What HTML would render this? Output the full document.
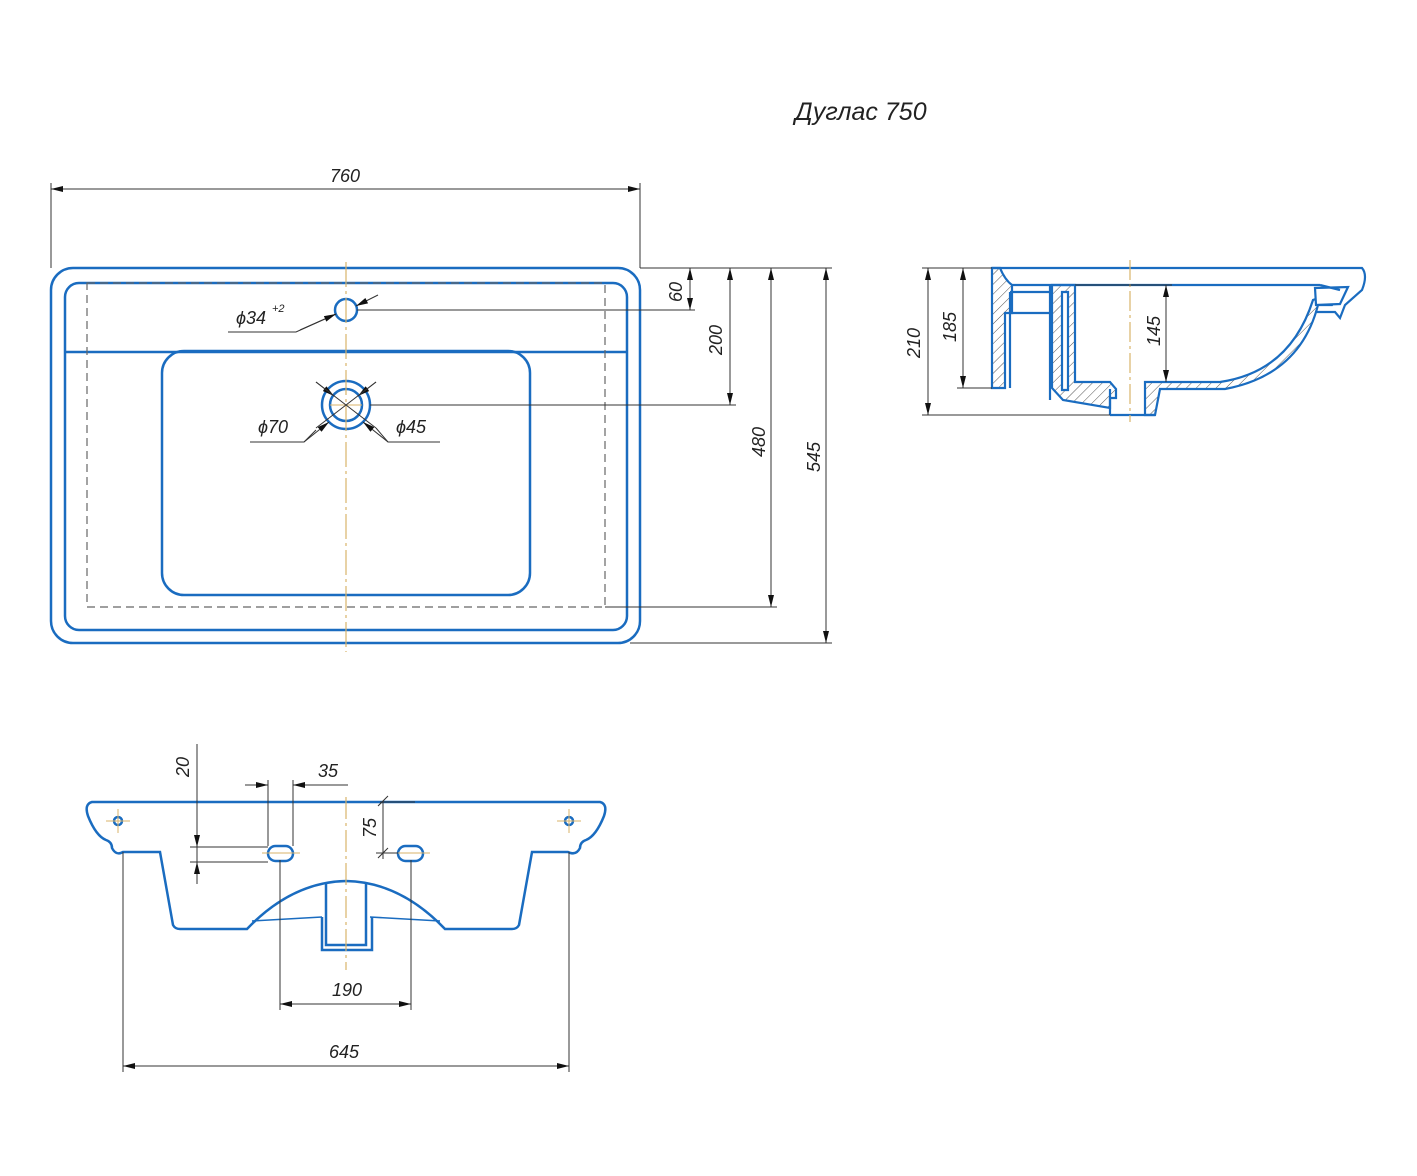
<!DOCTYPE html>
<html><head><meta charset="utf-8"><style>
html,body{margin:0;padding:0;background:#fff;}
svg text{font-family:"Liberation Sans",sans-serif;font-style:italic;fill:#222;}
</style></head><body>
<svg width="1417" height="1171" viewBox="0 0 1417 1171" xmlns="http://www.w3.org/2000/svg">
<defs>
<marker id="a" viewBox="0 0 12 6" refX="12" refY="3" markerWidth="12" markerHeight="6" orient="auto-start-reverse" markerUnits="userSpaceOnUse"><path d="M0,0 L12,3 L0,6 Z" fill="#111"/></marker>
<pattern id="h" width="7" height="7" patternUnits="userSpaceOnUse" patternTransform="rotate(45)"><line x1="0" y1="0" x2="0" y2="7" stroke="#555" stroke-width="1"/></pattern>
</defs>
<text x="795" y="120" font-size="25">Дуглас 750</text>

<!-- TOP VIEW -->
<g fill="none" stroke="#1a6cc0" stroke-width="2.5">
<rect x="51" y="268" width="589" height="375" rx="22"/>
<rect x="65" y="283" width="562" height="347" rx="14"/>
<line x1="65" y1="352" x2="627" y2="352"/>
<rect x="162" y="351" width="368" height="244" rx="22"/>
<circle cx="346" cy="310" r="11"/>
<circle cx="346" cy="405" r="24"/>
<circle cx="346" cy="405" r="16"/>
</g>
<rect x="87" y="283" width="518" height="324" fill="none" stroke="#666" stroke-width="1.2" stroke-dasharray="8,5"/>
<line x1="346" y1="262" x2="346" y2="652" stroke="#d9b36a" stroke-width="1.2" stroke-dasharray="25,4,3,4"/>
<line x1="330" y1="405" x2="362" y2="405" stroke="#d9b36a" stroke-width="1"/>
<g stroke="#333" stroke-width="1" fill="none">
<line x1="51" y1="183" x2="51" y2="268"/><line x1="640" y1="183" x2="640" y2="268"/>
<line x1="51" y1="189" x2="640" y2="189" marker-start="url(#a)" marker-end="url(#a)"/>
<line x1="640" y1="268" x2="832" y2="268"/>
<line x1="357" y1="310" x2="695" y2="310"/>
<line x1="370" y1="405" x2="736" y2="405"/>
<line x1="605" y1="607" x2="777" y2="607"/>
<line x1="630" y1="643" x2="832" y2="643"/>
<line x1="690" y1="268" x2="690" y2="310" marker-start="url(#a)" marker-end="url(#a)"/>
<line x1="730" y1="268" x2="730" y2="405" marker-start="url(#a)" marker-end="url(#a)"/>
<line x1="771" y1="268" x2="771" y2="607" marker-start="url(#a)" marker-end="url(#a)"/>
<line x1="826" y1="268" x2="826" y2="643" marker-start="url(#a)" marker-end="url(#a)"/>
<polyline points="228,332 296,332 336,314"/>
<line x1="300" y1="330" x2="336" y2="314" marker-end="url(#a)"/>
<line x1="378" y1="295" x2="356" y2="306" marker-end="url(#a)"/>
<polyline points="250,442 304,442 316,430"/>
<line x1="304" y1="442" x2="329" y2="422" marker-end="url(#a)"/>
<line x1="316" y1="382" x2="334" y2="396" marker-end="url(#a)"/>
<line x1="376" y1="382" x2="358" y2="396" marker-end="url(#a)"/>
<line x1="316" y1="382" x2="376" y2="428"/>
<line x1="376" y1="382" x2="316" y2="428"/>
<line x1="388" y1="442" x2="363" y2="422" marker-end="url(#a)"/>
<polyline points="376,428 388,442 440,442"/>
</g>
<text x="236" y="324" font-size="18">ϕ34</text><text x="272" y="312" font-size="11">+2</text>
<text x="258" y="433" font-size="18">ϕ70</text>
<text x="396" y="433" font-size="18">ϕ45</text>
<text x="330" y="182" font-size="18">760</text>
<text transform="translate(682,302) rotate(-90)" font-size="18">60</text>
<text transform="translate(722,355) rotate(-90)" font-size="18">200</text>
<text transform="translate(765,457) rotate(-90)" font-size="18">480</text>
<text transform="translate(820,472) rotate(-90)" font-size="18">545</text>

<!-- SIDE VIEW -->
<g stroke="#1a6cc0" stroke-width="2.2">
<path d="M992,268 L1000,268 Q1005,280 1012,285 L1012,313 L1005,313 L1005,388 L992,388 Z" fill="url(#h)"/>
<path d="M1052,285 L1075,285 L1075,382 L1110,382 L1116,389 L1116,398 L1110,398 L1110,408 L1063,400 L1052,388 Z" fill="url(#h)"/>
<path d="M1062,292 L1068,292 L1068,390 L1062,390 Z" fill="#fff"/>
<path d="M1145,382 L1220,382 Q1290,372 1313,300 L1342,290 L1332,305 L1318,305 Q1300,375 1225,389 L1160,389 L1155,415 L1145,415 Z" fill="url(#h)"/>
<path d="M1315,288 L1348,287 L1340,304 L1316,305 Z" fill="#fff"/>
</g>
<g fill="none" stroke="#1a6cc0" stroke-width="2.2">
<path d="M992,268 L1362,268 Q1368,275 1362,290 L1345,305 L1340,318 L1335,312 L1315,312"/>
<line x1="1012" y1="285" x2="1320" y2="285"/>
<path d="M1320,285 L1340,290"/>
<line x1="1010" y1="292" x2="1050" y2="292"/>
<line x1="1010" y1="313" x2="1050" y2="313"/>
<line x1="1010" y1="292" x2="1010" y2="388"/>
<line x1="1110" y1="389" x2="1110" y2="415"/>
<line x1="1110" y1="415" x2="1155" y2="415"/>
<line x1="1050" y1="285" x2="1050" y2="400"/>
</g>
<line x1="1130" y1="260" x2="1130" y2="422" stroke="#d9b36a" stroke-width="1.2" stroke-dasharray="20,4,3,4"/>
<g stroke="#333" stroke-width="1" fill="none">
<line x1="922" y1="268" x2="992" y2="268"/>
<line x1="922" y1="415" x2="1110" y2="415"/>
<line x1="957" y1="388" x2="992" y2="388"/>
<line x1="1075" y1="285" x2="1172" y2="285"/>
<line x1="928" y1="268" x2="928" y2="415" marker-start="url(#a)" marker-end="url(#a)"/>
<line x1="963" y1="268" x2="963" y2="388" marker-start="url(#a)" marker-end="url(#a)"/>
<line x1="1166" y1="285" x2="1166" y2="382" marker-start="url(#a)" marker-end="url(#a)"/>
</g>
<text transform="translate(920,358) rotate(-90)" font-size="18">210</text>
<text transform="translate(956,342) rotate(-90)" font-size="18">185</text>
<text transform="translate(1160,346) rotate(-90)" font-size="18">145</text>

<!-- BOTTOM VIEW -->
<g fill="none" stroke="#1a6cc0" stroke-width="2.5">
<path d="M92,802 L600,802 Q608,804 604,816 Q596,836 586,840 Q580,842 580,848 Q576,856 568,852 L532,852 L519,925 Q517,929 512,929 L445,929 Q400,882 346,881 Q292,882 247,929 L180,929 Q175,929 173,925 L160,852 L123,852 Q116,856 112,848 Q112,842 106,840 Q96,836 88,816 Q84,804 92,802 Z"/>
<path d="M252,921 L322,917 M370,917 L440,921" stroke-width="1.6"/>
<polyline points="322,917 322,950 372,950 372,917"/>
<polyline points="326,883 326,945 366,945 366,883"/>
<rect x="268" y="846" width="25" height="15" rx="7.5"/>
<rect x="398" y="846" width="25" height="15" rx="7.5"/>
<circle cx="118" cy="821" r="4"/>
<circle cx="569" cy="821" r="4"/>
</g>
<g stroke="#d9b36a" stroke-width="1">
<line x1="106" y1="821" x2="130" y2="821"/><line x1="118" y1="809" x2="118" y2="833"/>
<line x1="557" y1="821" x2="581" y2="821"/><line x1="569" y1="809" x2="569" y2="833"/>
<line x1="262" y1="853" x2="300" y2="853"/><line x1="392" y1="853" x2="430" y2="853"/>
<line x1="346" y1="797" x2="346" y2="970" stroke-dasharray="22,4,3,4" stroke-width="1.2"/>
</g>
<g stroke="#333" stroke-width="1" fill="none">
<line x1="197" y1="744" x2="197" y2="884"/>
<line x1="197" y1="830" x2="197" y2="847" marker-end="url(#a)"/>
<line x1="197" y1="880" x2="197" y2="862" marker-end="url(#a)"/>
<line x1="190" y1="847" x2="268" y2="847"/>
<line x1="190" y1="862" x2="268" y2="862"/>
<line x1="268" y1="780" x2="268" y2="846"/><line x1="293" y1="780" x2="293" y2="846"/>
<line x1="245" y1="785" x2="268" y2="785" marker-end="url(#a)"/>
<line x1="348" y1="785" x2="293" y2="785" marker-end="url(#a)"/>
<line x1="383" y1="801" x2="383" y2="859"/>
<line x1="378" y1="806" x2="388" y2="796"/><line x1="378" y1="858" x2="388" y2="848"/>
<line x1="380" y1="802" x2="415" y2="802"/><line x1="376" y1="853" x2="398" y2="853"/>
<line x1="123" y1="852" x2="123" y2="1072"/><line x1="569" y1="852" x2="569" y2="1072"/>
<line x1="280" y1="860" x2="280" y2="1010"/><line x1="411" y1="860" x2="411" y2="1010"/>
<line x1="280" y1="1004" x2="411" y2="1004" marker-start="url(#a)" marker-end="url(#a)"/>
<line x1="123" y1="1066" x2="569" y2="1066" marker-start="url(#a)" marker-end="url(#a)"/>
</g>
<text transform="translate(189,777) rotate(-90)" font-size="18">20</text>
<text x="318" y="777" font-size="18">35</text>
<text transform="translate(376,838) rotate(-90)" font-size="18">75</text>
<text x="332" y="996" font-size="18">190</text>
<text x="329" y="1058" font-size="18">645</text>
</svg>
</body></html>
